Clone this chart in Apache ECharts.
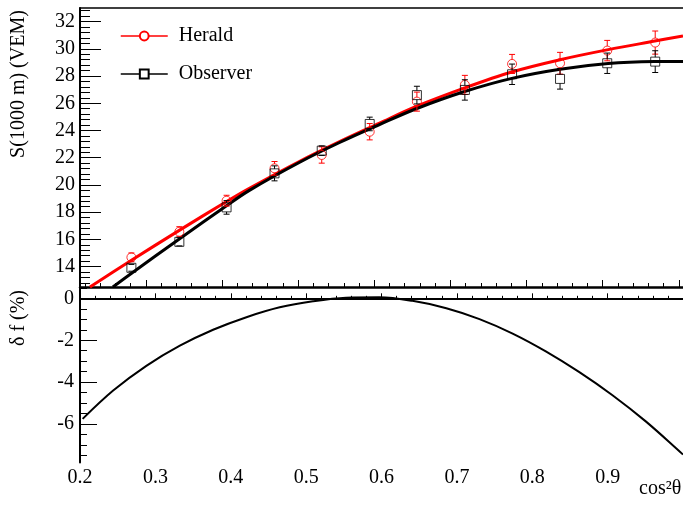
<!DOCTYPE html>
<html>
<head>
<meta charset="utf-8">
<script src="https://cdn.jsdelivr.net/npm/echarts@6/dist/echarts.min.js"></script>
<style>
html,body{margin:0;padding:0;background:#fff;}
#chart{width:683px;height:508px;}
</style>
</head>
<body>
<div id="chart"></div>
<script>
// ---- data ----
const binCenters = [0.281, 0.344, 0.406, 0.469, 0.531, 0.594, 0.656, 0.719, 0.781, 0.844, 0.906, 0.969];
const heraldVals = [14.68, 16.56, 18.84, 21.22, 22.2, 23.91, 26.12, 27.35, 28.89, 28.94, 29.87, 30.46];
const heraldErr  = [0.32, 0.37, 0.4, 0.5, 0.6, 0.6, 0.7, 0.7, 0.7, 0.8, 0.75, 0.85];
const observerVals = [13.91, 15.82, 18.35, 20.85, 22.52, 24.48, 26.6, 26.98, 28.13, 27.79, 28.94, 29.06];
const observerErr  = [0.25, 0.3, 0.5, 0.55, 0.35, 0.5, 0.65, 0.75, 0.75, 0.75, 0.75, 0.8];

const heraldFitX = [0.2266, 0.279, 0.3444, 0.4055, 0.436, 0.5015, 0.5538, 0.6062, 0.6543, 0.7197, 0.7807, 0.8441, 0.9073, 0.9684, 1.0055];
const heraldFitY = [12.5, 14.39, 16.68, 18.76, 19.75, 21.72, 23.16, 24.52, 25.75, 27.15, 28.3, 29.2, 29.94, 30.57, 30.95];
const observerFitX = [0.2567, 0.279, 0.3444, 0.4055, 0.436, 0.5015, 0.5538, 0.6062, 0.6543, 0.7197, 0.7807, 0.8441, 0.9073, 0.9684, 1.0055];
const observerFitY = [12.5, 13.42, 16.05, 18.45, 19.6, 21.65, 23.1, 24.42, 25.58, 26.88, 27.83, 28.5, 28.92, 29.06, 29.07];

const deltaX = [0.2035, 0.244, 0.288, 0.3325, 0.3766, 0.4208, 0.465, 0.509, 0.553, 0.597, 0.641, 0.686, 0.730, 0.774, 0.818, 0.862, 0.906, 0.951, 0.997, 1.0];
const deltaY = [-5.75, -4.40, -3.22, -2.26, -1.50, -0.90, -0.43, -0.14, 0.03, 0.05, -0.12, -0.47, -0.99, -1.68, -2.53, -3.51, -4.61, -5.88, -7.35, -7.45];

const topYTickLabels = [14, 16, 18, 20, 22, 24, 26, 28, 30, 32];
const topXTicks = [0.3, 0.4, 0.5, 0.6, 0.7, 0.8, 0.9, 1.0];
const bottomXTickLabels = [0.2, 0.3, 0.4, 0.5, 0.6, 0.7, 0.8, 0.9];
const bottomYTickLabels = [-6, -4, -2, 0];

const legendNames = ['Herald', 'Observer'];
const yTitleTop = 'S(1000 m) (VEM)';
const yTitleBottom = 'δ f (%)';
const xTitle = 'cos²θ';

// ---- helpers (axis decoration only) ----
function steps(a, b, s) { const o = []; for (let v = a; v <= b + 1e-9; v += s) o.push(Math.round(v * 1000) / 1000); return o; }
const topYMinor = steps(12.8, 32.8, 0.4);
const topXMinor = steps(0.22, 1.0, 0.02);
const bottomXMinor = steps(0.2, 1.0, 0.02);
const bottomYMinor = steps(-7.5, 0.5, 0.5);

function zip(a, b) { return a.map((v, i) => [v, b[i]]); }
function zip3(a, b, c) { return a.map((v, i) => [v, b[i], c[i]]); }

const FONT = 'Liberation Serif';

function errRender(color) {
  return function (params, api) {
    const x = api.value(0), y = api.value(1), e = api.value(2);
    const c = api.coord([x, y]);
    const t = api.coord([x, y + e]);
    const b = api.coord([x, y - e]);
    const r = 4.5, cap = 3;
    const st = { stroke: color, lineWidth: 1 };
    const ch = [];
    if (c[1] - r > t[1]) ch.push({ type: 'line', shape: { x1: c[0], y1: t[1], x2: c[0], y2: c[1] - r }, style: st });
    if (b[1] > c[1] + r) ch.push({ type: 'line', shape: { x1: c[0], y1: c[1] + r, x2: c[0], y2: b[1] }, style: st });
    ch.push({ type: 'line', shape: { x1: c[0] - cap, y1: t[1], x2: c[0] + cap, y2: t[1] }, style: st });
    ch.push({ type: 'line', shape: { x1: c[0] - cap, y1: b[1], x2: c[0] + cap, y2: b[1] }, style: st });
    return { type: 'group', children: ch };
  };
}

const chart = echarts.init(document.getElementById('chart'), null, { renderer: 'canvas' });

const option = {
  animation: false,
  backgroundColor: '#fff',
  grid: [
    { left: 80, top: 8, right: -2, height: 279 },
    { left: 80, top: 287, right: -2, height: 175.5 }
  ],
  xAxis: [
    { type: 'value', gridIndex: 0, position: 'bottom', min: 0.2135, max: 1.0055, splitLine: { show: false },
      axisLine: { show: true, lineStyle: { color: '#000', width: 2.5 } },
      axisTick: { show: true, inside: true, length: 7, customValues: topXTicks, lineStyle: { color: '#000', width: 1 } },
      axisLabel: { show: false } },
    { type: 'value', gridIndex: 0, position: 'bottom', min: 0.2135, max: 1.0055, splitLine: { show: false },
      axisLine: { show: false },
      axisTick: { show: true, inside: true, length: 4, customValues: topXMinor, lineStyle: { color: '#000', width: 1 } },
      axisLabel: { show: false } },
    { type: 'value', gridIndex: 0, position: 'top', min: 0.2135, max: 1.0055, splitLine: { show: false },
      axisLine: { show: true, lineStyle: { color: '#000', width: 1.5 } },
      axisTick: { show: false }, axisLabel: { show: false } },
    { type: 'value', gridIndex: 1, position: 'bottom', min: 0.2, max: 1.0, splitLine: { show: false },
      axisLine: { show: true, lineStyle: { color: '#000', width: 2 } },
      axisTick: { show: true, inside: true, length: 5, customValues: bottomXTickLabels, lineStyle: { color: '#000', width: 1 } },
      axisLabel: { show: true, customValues: bottomXTickLabels, margin: 5, color: '#000', fontFamily: FONT, fontSize: 20,
        formatter: v => v.toFixed(1) } },
    { type: 'value', gridIndex: 1, position: 'bottom', min: 0.2, max: 1.0, splitLine: { show: false },
      axisLine: { show: false },
      axisTick: { show: true, inside: true, length: 2.5, customValues: bottomXMinor, lineStyle: { color: '#000', width: 1 } },
      axisLabel: { show: false } }
  ],
  yAxis: [
    { type: 'value', gridIndex: 0, position: 'left', min: 12.5, max: 33, splitLine: { show: false },
      axisLine: { show: true, lineStyle: { color: '#000', width: 2 } },
      axisTick: { show: true, inside: true, length: 21, customValues: topYTickLabels, lineStyle: { color: '#000', width: 1 } },
      axisLabel: { show: true, customValues: topYTickLabels, margin: 5, color: '#000', fontFamily: FONT, fontSize: 20 } },
    { type: 'value', gridIndex: 0, position: 'left', min: 12.5, max: 33, splitLine: { show: false },
      axisLine: { show: false },
      axisTick: { show: true, inside: true, length: 10, customValues: topYMinor, lineStyle: { color: '#000', width: 1 } },
      axisLabel: { show: false } },
    { type: 'value', gridIndex: 1, position: 'left', min: -7.83, max: 0.54, splitLine: { show: false },
      axisLine: { show: true, lineStyle: { color: '#000', width: 2 } },
      axisTick: { show: true, inside: true, length: 17, customValues: bottomYTickLabels, lineStyle: { color: '#000', width: 1 } },
      axisLabel: { show: true, customValues: bottomYTickLabels, margin: 6, color: '#000', fontFamily: FONT, fontSize: 20 } },
    { type: 'value', gridIndex: 1, position: 'left', min: -7.83, max: 0.54, splitLine: { show: false },
      axisLine: { show: false },
      axisTick: { show: true, inside: true, length: 7, customValues: bottomYMinor, lineStyle: { color: '#000', width: 1 } },
      axisLabel: { show: false } }
  ],
  legend: {
    data: legendNames,
    orient: 'vertical',
    left: 120, top: 26,
    padding: 0,
    itemWidth: 47, itemHeight: 11,
    itemGap: 18,
    lineStyle: { width: 1.5 },
    itemStyle: { borderWidth: 1 },
    textStyle: { fontFamily: FONT, fontSize: 20, color: '#000', padding: [0, 0, 0, 6] },
    selectedMode: false
  },
  series: [
    { name: 'Herald', type: 'line', xAxisIndex: 0, yAxisIndex: 0, data: zip(heraldFitX, heraldFitY),
      smooth: 0.35, showSymbol: false, symbol: 'emptyCircle', color: '#ff0000',
      lineStyle: { color: '#ff0000', width: 3 }, z: 3, clip: true },
    { name: 'Observer', type: 'line', xAxisIndex: 0, yAxisIndex: 0, data: zip(observerFitX, observerFitY),
      smooth: 0.35, showSymbol: false, symbol: 'emptyRect', color: '#000',
      lineStyle: { color: '#000', width: 3 }, z: 4, clip: true },
    { name: 'Herald data', type: 'scatter', xAxisIndex: 0, yAxisIndex: 0, data: zip(binCenters, heraldVals),
      symbol: 'circle', symbolSize: 9, itemStyle: { color: 'rgba(0,0,0,0)', borderColor: '#ff0000', borderWidth: 1 }, z: 5 },
    { name: 'Observer data', type: 'scatter', xAxisIndex: 0, yAxisIndex: 0, data: zip(binCenters, observerVals),
      symbol: 'rect', symbolSize: 9, itemStyle: { color: 'rgba(0,0,0,0)', borderColor: '#000', borderWidth: 1 }, z: 6 },
    { name: 'Herald err', type: 'custom', xAxisIndex: 0, yAxisIndex: 0, data: zip3(binCenters, heraldVals, heraldErr),
      encode: { x: 0, y: 1 }, renderItem: errRender('#ff0000'), z: 5 },
    { name: 'Observer err', type: 'custom', xAxisIndex: 0, yAxisIndex: 0, data: zip3(binCenters, observerVals, observerErr),
      encode: { x: 0, y: 1 }, renderItem: errRender('#000'), z: 6 },
    { name: 'delta', type: 'line', xAxisIndex: 3, yAxisIndex: 2, data: zip(deltaX, deltaY),
      smooth: 0.35, showSymbol: false, color: '#000', lineStyle: { color: '#000', width: 2 }, clip: true }
  ],
  graphic: [
    { type: 'text', x: 19, y: 84, rotation: Math.PI / 2,
      style: { text: yTitleTop, font: '20px "Liberation Serif"', fill: '#000', align: 'center', verticalAlign: 'middle' } },
    { type: 'text', x: 19, y: 318, rotation: Math.PI / 2,
      style: { text: yTitleBottom, font: '20px "Liberation Serif"', fill: '#000', align: 'center', verticalAlign: 'middle' } },
    { type: 'text', x: 639, y: 489,
      style: { text: xTitle, font: '20px "Liberation Serif"', fill: '#000', align: 'left', verticalAlign: 'middle' } }
  ]
};
chart.setOption(option);
</script>
</body>
</html>
